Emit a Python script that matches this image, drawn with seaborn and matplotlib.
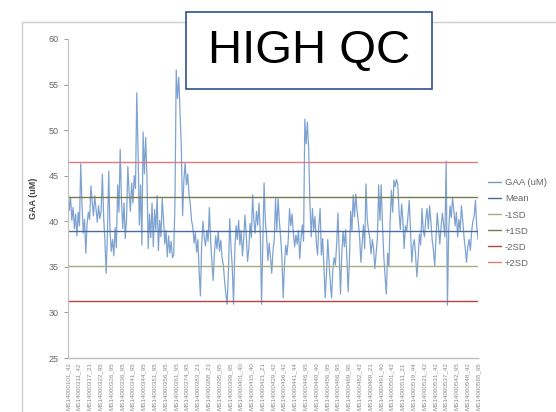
import numpy as np
import pandas as pd
import matplotlib.pyplot as plt
import seaborn as sns
from matplotlib.patches import Rectangle

# GAA (uM) per sample left to right
gaa = [
    43.8, 41.2, 42.6, 40.1, 41.5, 39.2, 40.8, 38.4, 41.0, 39.5, 46.3, 41.8, 38.7, 40.2, 36.5, 39.8, 41.0, 40.2,
    43.9, 42.1, 40.6, 42.8, 41.3, 39.9, 41.7, 40.3, 41.1,
    45.2, 40.5, 37.8, 34.3, 39.0, 45.5, 38.9, 36.7, 38.0, 36.2, 39.3, 37.1, 44.0, 41.0, 47.9, 42.3, 39.2, 42.0,
    38.1, 40.4, 46.0, 43.2, 41.1, 44.2, 42.0, 45.0, 43.6, 54.1, 48.0,
    39.6, 44.0, 37.4, 49.8, 45.2, 49.2, 45.0, 37.0, 40.8, 38.2, 42.0, 37.2, 41.3, 39.0, 42.8, 36.8, 40.1, 38.3,
    42.5, 40.2, 37.5, 39.0, 36.1, 38.4, 36.5, 37.8, 36.0,
    36.3, 42.0, 56.6, 53.5, 55.8, 52.0, 48.0, 40.6, 44.5, 46.4, 44.0, 45.2, 43.0, 42.0, 40.1, 39.4, 37.6, 38.8,
    36.6, 38.0, 34.5, 31.8, 37.5, 40.0, 38.2, 37.3, 39.0, 37.8, 41.5, 38.0, 35.6, 33.5,
    36.5, 38.4, 37.0, 38.9, 36.7, 37.9, 36.0, 35.2, 33.4, 32.0, 30.9, 34.5, 40.3, 37.2, 35.0, 30.9, 36.8, 39.5,
    38.0, 40.1, 37.4, 39.0, 36.2, 38.1, 40.7, 38.5, 35.6,
    37.0, 39.8, 38.2, 42.9, 40.0, 38.7, 41.1, 39.6, 42.0, 38.8, 30.9, 37.5, 44.2, 40.0, 38.3, 35.7, 37.6, 36.1,
    34.3, 36.8, 38.0, 42.5, 39.0,
    42.5, 40.0, 38.2, 36.0, 31.6, 35.2, 37.4, 36.3, 38.0, 41.4, 39.5, 40.8, 38.7, 37.2, 38.5, 37.5, 39.0, 35.9,
    38.1, 39.6, 37.8, 51.2, 48.5, 50.9, 48.0, 42.0, 38.3, 41.4, 39.0, 40.5, 37.7,
    36.3, 39.5, 41.4, 36.3, 38.1, 35.0, 31.6, 34.2, 38.0, 35.5, 33.2, 31.6, 34.8, 36.0, 35.2, 37.5, 40.9, 36.5,
    32.0, 36.4, 38.9, 37.2, 39.1, 36.0, 32.3, 35.6,
    41.1, 39.0, 42.9, 40.5, 43.0, 41.2, 39.9, 38.3, 35.5, 37.6, 39.6, 37.0, 44.1, 40.2, 39.0, 38.2, 36.4, 38.0,
    37.0, 34.8, 36.5, 38.2, 44.0, 40.1,
    44.0, 39.5, 36.2, 34.0, 32.0, 36.5, 35.0, 40.0, 43.4, 41.0, 44.5, 43.8, 44.6, 44.0, 41.0, 39.1, 41.9, 40.2,
    37.0, 39.5, 38.9, 40.6, 42.3, 38.8, 35.5, 37.4, 38.0, 36.2, 33.9, 36.0,
    38.6, 37.4, 41.4, 39.0, 38.3, 40.3, 41.4, 39.2, 41.7, 40.0, 38.0, 36.8, 35.1, 38.2, 40.9, 39.3, 37.5, 39.4,
    40.9, 39.6, 38.3, 46.6, 30.8, 39.0, 41.7, 40.4, 42.6,
    41.2, 39.5, 41.0, 38.3, 40.2, 39.0, 41.7, 40.1, 38.3, 37.0, 35.5, 37.2, 38.0, 36.8, 38.9, 40.0, 40.6, 42.3,
    39.5, 38.0,
]

sample_ids = [
    "MS14000101_42", "MS14000311_42", "MS14000317_21", "MS14000322_95", "MS14000326_95",
    "MS14000336_95", "MS14000341_95", "MS14000344_95", "MS14000351_95", "MS14000356_95",
    "MS14000361_95", "MS14000374_95", "MS14000383_21", "MS14000388_21", "MS14000395_95",
    "MS14000399_95", "MS14000401_40", "MS14000415_40", "MS14000421_21", "MS14000429_42",
    "MS14000436_42", "MS14000441_44", "MS14000446_95", "MS14000449_40", "MS14000456_95",
    "MS14000466_95", "MS14000469_95", "MS14000482_42", "MS14000489_21", "MS14000491_40",
    "MS14000501_42", "MS14000511_21", "MS14000519_44", "MS14000521_42", "MS14000531_42",
    "MS14000537_42", "MS14000542_95", "MS14000548_42", "MS14000565_95",
]

mean_val = 38.9
sd_val = 3.8

series_names = ["GAA (uM)", "Mean", "-1SD", "+1SD", "-2SD", "+2SD"]
series_colors = ["#7199cc", "#4a6aa3", "#a8a982", "#767a4e", "#b04646", "#df7b7b"]
levels = {
    "Mean": mean_val,
    "-1SD": mean_val - sd_val,
    "+1SD": mean_val + sd_val,
    "-2SD": mean_val - 2 * sd_val,
    "+2SD": mean_val + 2 * sd_val,
}

n = len(gaa)
idx = np.arange(n)
frames = [pd.DataFrame({"idx": idx, "value": gaa, "series": "GAA (uM)"})]
for name, lv in levels.items():
    frames.append(pd.DataFrame({"idx": idx, "value": lv, "series": name}))
df = pd.concat(frames, ignore_index=True)

sns.set_style("white")
plt.rcParams['font.family'] = ['Liberation Sans', 'DejaVu Sans']

fig = plt.figure(figsize=(5.56, 4.12), dpi=100)
ax = fig.add_axes([68 / 556, 1 - 358 / 412, 410 / 556, 319 / 412])

sns.lineplot(data=df, x="idx", y="value", hue="series", hue_order=series_names,
             palette=dict(zip(series_names, series_colors)), linewidth=1.0, ax=ax)
ax.lines[0].set_linewidth(0.9)
ax.lines[0].set_alpha(0.9)

ax.set_xlim(0, n - 1)
ax.set_ylim(25, 60)
ax.set_yticks(np.arange(25, 61, 5))
ax.tick_params(axis='y', labelsize=6.5, colors="#8a8a8a", length=3, width=0.6, direction='out', left=True)
for t in ax.get_yticklabels():
    t.set_color("#666666")

step = (n - 1) / (len(sample_ids) - 1)
ax.set_xticks(np.arange(len(sample_ids)) * step)
ax.set_xticklabels(sample_ids, rotation=90, fontsize=4.5, color="#8a8a8a")
ax.tick_params(axis='x', length=0, pad=3)

ax.set_xlabel("")
ax.set_ylabel("GAA (uM)", fontsize=6.5, color="#444444", fontweight='bold', labelpad=8)

for s in ["top", "right"]:
    ax.spines[s].set_visible(False)
ax.spines["left"].set_color("#bfbfbf")
ax.spines["bottom"].set_color("#bfbfbf")
ax.spines["left"].set_linewidth(0.8)
ax.spines["bottom"].set_linewidth(1.0)

handles, labels = ax.get_legend_handles_labels()
ax.legend(handles, labels, loc='center left', bbox_to_anchor=(1.01, 0.423), frameon=False,
          fontsize=6.8, handlelength=1.4, handletextpad=0.4, labelspacing=0.75, labelcolor="#666666",
          borderaxespad=0.2)

# outer chart border
fig.patches.append(Rectangle((22 / 556, -0.1), 1.0, 1 - 22 / 412 + 0.1, transform=fig.transFigure,
                             fill=False, edgecolor="#cfcfcf", linewidth=1.0, zorder=0))

# title box
fig.patches.append(Rectangle((186 / 556, 1 - 89 / 412), 246 / 556, 77 / 412, transform=fig.transFigure,
                             facecolor="white", edgecolor="#2f4f8f", linewidth=1.2, zorder=5))
fig.text((186 + 432) / 2 / 556, 1 - 51 / 412, "HIGH QC", fontsize=34, ha='center', va='center',
         color="black", zorder=6)

fig.savefig("out.png", dpi=100)
